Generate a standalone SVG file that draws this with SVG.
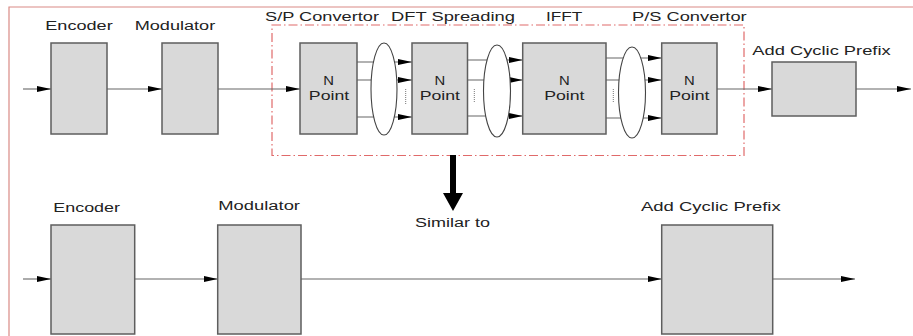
<svg xmlns="http://www.w3.org/2000/svg" width="913" height="336" viewBox="0 0 913 336">
<defs>
<style>
.box{fill:#d9d9d9;stroke:#5e5e5e;stroke-width:1.5}
.ln{stroke:#666;stroke-width:1.1;fill:none}
.ell{fill:#fff;stroke:#444;stroke-width:1.1}
.dot{stroke:#777;stroke-width:1;stroke-dasharray:1,1}
text{font-family:"Liberation Sans",Arial,sans-serif;font-size:12.5px;fill:#222}
</style>
<marker id="ah" markerUnits="userSpaceOnUse" markerWidth="15" markerHeight="7" refX="14" refY="3" orient="auto">
<path d="M0,0 L14,3 L0,6 z" fill="#000"/>
</marker>
</defs>
<rect width="913" height="336" fill="#fff"/>
<path d="M9,336 V7 H913" fill="none" stroke="#d98a85" stroke-width="1.2"/>
<rect x="272" y="25" width="472" height="130.5" fill="none" stroke="#e06a6a" stroke-width="1.2" stroke-dasharray="9,3,1.5,3"/>

<g id="connectors">
<line class="ln" x1="23" y1="89" x2="51" y2="89" marker-end="url(#ah)"/>
<line class="ln" x1="107" y1="89" x2="162" y2="89" marker-end="url(#ah)"/>
<line class="ln" x1="218" y1="89" x2="300" y2="89" marker-end="url(#ah)"/>
<line class="ln" x1="717" y1="89" x2="772" y2="89" marker-end="url(#ah)"/>
<line class="ln" x1="856" y1="89" x2="911" y2="89" marker-end="url(#ah)"/>
<line class="ln" x1="357" y1="62" x2="412" y2="62" marker-end="url(#ah)"/>
<line class="ln" x1="357" y1="80" x2="412" y2="80" marker-end="url(#ah)"/>
<line class="ln" x1="357" y1="117" x2="412" y2="117" marker-end="url(#ah)"/>
<line class="ln" x1="467.5" y1="60" x2="522.7" y2="60" marker-end="url(#ah)"/>
<line class="ln" x1="467.5" y1="80" x2="522.7" y2="80" marker-end="url(#ah)"/>
<line class="ln" x1="467.5" y1="116" x2="522.7" y2="116" marker-end="url(#ah)"/>
<line class="ln" x1="606" y1="58" x2="661.7" y2="58" marker-end="url(#ah)"/>
<line class="ln" x1="606" y1="80" x2="661.7" y2="80" marker-end="url(#ah)"/>
<line class="ln" x1="606" y1="118" x2="661.7" y2="118" marker-end="url(#ah)"/>
<line class="ln" x1="23" y1="279" x2="51" y2="279" marker-end="url(#ah)"/>
<line class="ln" x1="134.7" y1="279" x2="217.7" y2="279" marker-end="url(#ah)"/>
<line class="ln" x1="301" y1="279" x2="661.7" y2="279" marker-end="url(#ah)"/>
<line class="ln" x1="772.7" y1="279" x2="855" y2="279" marker-end="url(#ah)"/>
<path d="M450,155 H456 V193 H463 L453,211 L443,193 H450 Z" fill="#000"/>
</g>

<g id="ellipses">
<ellipse class="ell" cx="384" cy="89" rx="13" ry="46"/>
<ellipse class="ell" cx="497" cy="91" rx="13.5" ry="46"/>
<ellipse class="ell" cx="632" cy="92.5" rx="13.5" ry="45.5"/>
<line class="dot" x1="405.7" y1="89" x2="405.7" y2="104"/>
<line class="dot" x1="474.3" y1="89" x2="474.3" y2="102"/>
<line class="dot" x1="613.3" y1="89" x2="613.3" y2="103"/>
</g>

<g id="encoder-top">
<rect class="box" x="51" y="43" width="56" height="91"/>
<text x="45.3" y="30" textLength="67.4" lengthAdjust="spacingAndGlyphs">Encoder</text>
</g>
<g id="modulator-top">
<rect class="box" x="162" y="43" width="56" height="91"/>
<text x="134.7" y="30" textLength="80.5" lengthAdjust="spacingAndGlyphs">Modulator</text>
</g>
<g id="sp-convertor">
<rect class="box" x="300" y="43" width="57" height="91"/>
<text x="265" y="21" textLength="114" lengthAdjust="spacingAndGlyphs">S/P Convertor</text>
<text x="328.7" y="85" text-anchor="middle" textLength="10.7" lengthAdjust="spacingAndGlyphs">N</text>
<text x="329" y="100" text-anchor="middle" textLength="40.3" lengthAdjust="spacingAndGlyphs">Point</text>
</g>
<g id="dft-spreading">
<rect class="box" x="412" y="43" width="55.5" height="91"/>
<text x="391" y="21" textLength="124" lengthAdjust="spacingAndGlyphs">DFT Spreading</text>
<text x="439.8" y="85" text-anchor="middle" textLength="10.7" lengthAdjust="spacingAndGlyphs">N</text>
<text x="439.8" y="100" text-anchor="middle" textLength="40.3" lengthAdjust="spacingAndGlyphs">Point</text>
</g>
<g id="ifft">
<rect class="box" x="522.7" y="43" width="83.3" height="91"/>
<text x="546" y="21" textLength="36.3" lengthAdjust="spacingAndGlyphs">IFFT</text>
<text x="564.3" y="85" text-anchor="middle" textLength="10.7" lengthAdjust="spacingAndGlyphs">N</text>
<text x="564.3" y="100" text-anchor="middle" textLength="40.3" lengthAdjust="spacingAndGlyphs">Point</text>
</g>
<g id="ps-convertor">
<rect class="box" x="661.7" y="43" width="55.3" height="91"/>
<text x="632" y="21" textLength="114.7" lengthAdjust="spacingAndGlyphs">P/S Convertor</text>
<text x="689.3" y="85" text-anchor="middle" textLength="10.7" lengthAdjust="spacingAndGlyphs">N</text>
<text x="689.3" y="100" text-anchor="middle" textLength="40.3" lengthAdjust="spacingAndGlyphs">Point</text>
</g>
<g id="cyclic-prefix-top">
<rect class="box" x="772" y="62" width="84" height="54"/>
<text x="752.3" y="55.3" textLength="138.4" lengthAdjust="spacingAndGlyphs">Add Cyclic Prefix</text>
</g>
<g id="similar-to">
<text x="415" y="227.3" textLength="75" lengthAdjust="spacingAndGlyphs">Similar to</text>
</g>
<g id="encoder-bottom">
<rect class="box" x="51" y="225" width="83.7" height="109"/>
<text x="53.3" y="211.7" textLength="66.7" lengthAdjust="spacingAndGlyphs">Encoder</text>
</g>
<g id="modulator-bottom">
<rect class="box" x="217.7" y="225" width="83.3" height="109"/>
<text x="218.3" y="209.5" textLength="81.7" lengthAdjust="spacingAndGlyphs">Modulator</text>
</g>
<g id="cyclic-prefix-bottom">
<rect class="box" x="661.7" y="225" width="111" height="109"/>
<text x="641" y="210.5" textLength="139.7" lengthAdjust="spacingAndGlyphs">Add Cyclic Prefix</text>
</g>
</svg>
